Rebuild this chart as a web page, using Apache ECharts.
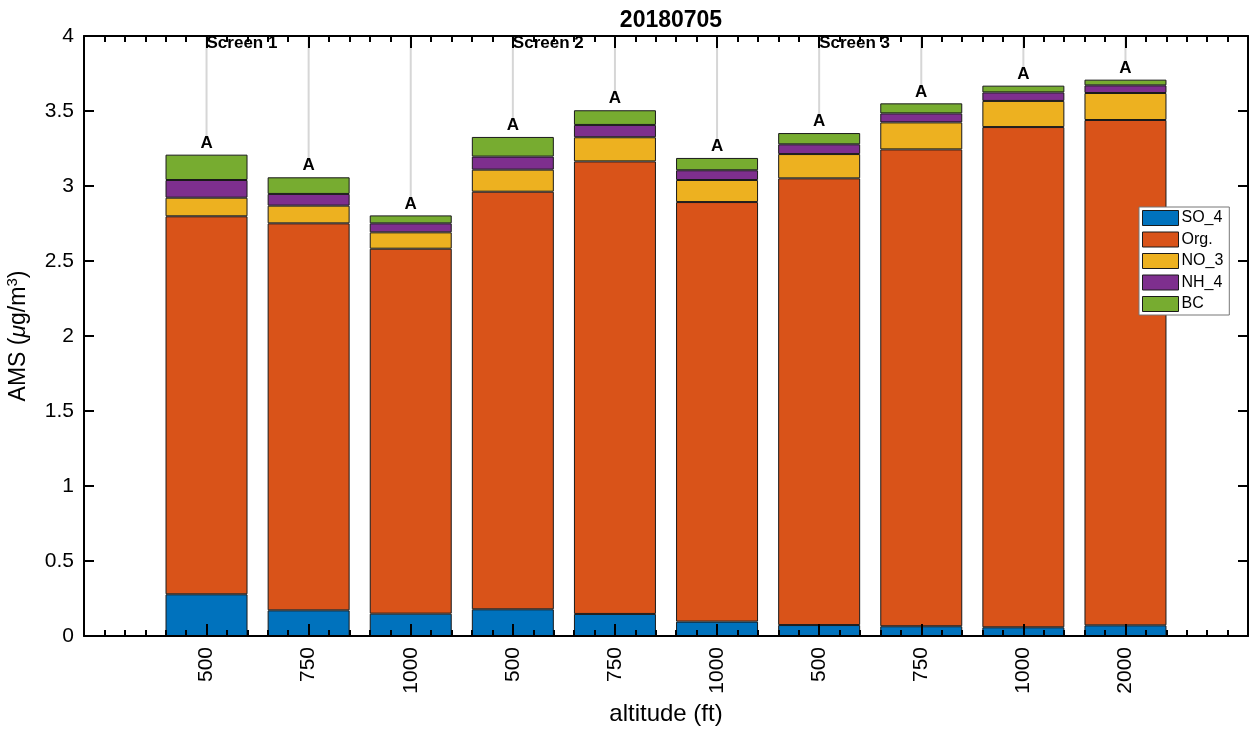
<!DOCTYPE html>
<html>
<head>
<meta charset="utf-8">
<title>20180705 AMS composition</title>
<script src="https://cdn.jsdelivr.net/npm/echarts@6/dist/echarts.min.js"></script>
<style>
  html, body { margin: 0; padding: 0; background: #ffffff; }
  #chart { width: 1250px; height: 731px; }
</style>
</head>
<body>
<div id="chart"></div>
<script>
// Flight legs, in the order they are drawn
const altitudes = ['500', '750', '1000', '500', '750', '1000', '500', '750', '1000', '2000'];

// Mass concentrations per species (µg/m³)
const so4 = [0.278, 0.171, 0.149, 0.178, 0.147, 0.096, 0.073, 0.065, 0.058, 0.071];
const org = [2.520, 2.580, 2.433, 2.784, 3.017, 2.797, 2.978, 3.179, 3.335, 3.369];
const no3 = [0.124, 0.118, 0.109, 0.147, 0.161, 0.147, 0.162, 0.180, 0.174, 0.180];
const nh4 = [0.118, 0.078, 0.060, 0.087, 0.082, 0.065, 0.065, 0.060, 0.057, 0.051];
const bc  = [0.169, 0.111, 0.053, 0.131, 0.098, 0.082, 0.075, 0.067, 0.045, 0.038];

// Screen annotations: label and the leg where each screen starts
const screenNames = ['Screen 1', 'Screen 2', 'Screen 3'];
const screenLegs  = [1, 4, 7];

// Letter shown above every stacked bar
const barTag = 'A';

const speciesNames  = ['SO_4', 'Org.', 'NO_3', 'NH_4', 'BC'];
const speciesValues = [so4, org, no3, nh4, bc];
const speciesColors = ['#0072BD', '#D95319', '#EDB120', '#7E2F8E', '#77AC30'];

const FONT = '"Liberation Sans", Arial, Helvetica, sans-serif';
const X_MIN = -0.2, X_MAX = 11.2, Y_MAX = 4;

const legPositions = altitudes.map((_, i) => i + 1);
const totals = legPositions.map((_, i) => speciesValues.reduce((s, arr) => s + arr[i], 0));

// minor tick positions every 0.2 along the leg axis
const minorTicks = [];
for (let k = Math.round(X_MIN * 5); k <= Math.round(X_MAX * 5); k++) {
  const v = +(k / 5).toFixed(1);
  if (!legPositions.includes(v)) minorTicks.push(v);
}

const chart = echarts.init(document.getElementById('chart'), null, { renderer: 'canvas' });

const grid = { left: 84, right: 2, top: 36, bottom: 95, containLabel: false, outerBoundsMode: 'none' };

// axes sit on their own layer so the inward ticks stay visible over the bars
function xAxisBase(position, extra) {
  return Object.assign({
    type: 'value', position: position, min: X_MIN, max: X_MAX, zlevel: 1, z: 10,
    splitLine: { show: false },
    axisLine: { show: true, onZero: false, lineStyle: { color: '#000', width: 2 } },
    axisLabel: { show: false },
    axisTick: { show: false }
  }, extra);
}

const xAxes = [
  // bottom, major ticks + labels
  xAxisBase('bottom', {
    name: 'altitude (ft)', nameLocation: 'middle', nameGap: 66, nameMoveOverlap: false,
    nameTextStyle: { fontFamily: FONT, fontSize: 24, color: '#000' },
    axisTick: { show: true, inside: true, length: 12, customValues: legPositions,
                lineStyle: { color: '#000', width: 2 } },
    axisLabel: { show: true, rotate: 90, margin: 11, customValues: legPositions,
                 fontFamily: FONT, fontSize: 21, color: '#000',
                 formatter: v => altitudes[Math.round(v) - 1] }
  }),
  // bottom, minor ticks
  xAxisBase('bottom', {
    axisLine: { show: false, onZero: false },
    axisTick: { show: true, inside: true, length: 6, customValues: minorTicks,
                lineStyle: { color: '#000', width: 2 } }
  }),
  // top, major ticks
  xAxisBase('top', {
    axisTick: { show: true, inside: true, length: 12, customValues: legPositions,
                lineStyle: { color: '#000', width: 2 } }
  }),
  // top, minor ticks
  xAxisBase('top', {
    axisLine: { show: false, onZero: false },
    axisTick: { show: true, inside: true, length: 6, customValues: minorTicks,
                lineStyle: { color: '#000', width: 2 } }
  })
];

const yAxes = [
  {
    type: 'value', position: 'left', min: 0, max: Y_MAX, interval: 0.5, zlevel: 1, z: 10,
    name: '{t|AMS (}{mu|μ}{t|g/m}{sup|3}{t|)}',
    nameLocation: 'middle', nameGap: 52, nameRotate: 90, nameMoveOverlap: false,
    nameTextStyle: {
      color: '#000',
      rich: {
        t:   { fontFamily: FONT, fontSize: 23, color: '#000' },
        mu:  { fontFamily: FONT, fontSize: 23, color: '#000', fontStyle: 'italic' },
        sup: { fontFamily: FONT, fontSize: 15, color: '#000', padding: [0, 0, 12, 0] }
      }
    },
    splitLine: { show: false },
    axisLine: { show: true, onZero: false, lineStyle: { color: '#000', width: 2 } },
    axisTick: { show: true, inside: true, length: 10, lineStyle: { color: '#000', width: 2 } },
    axisLabel: { fontFamily: FONT, fontSize: 21, color: '#000', margin: 10,
                 formatter: v => String(v) }
  },
  {
    type: 'value', position: 'right', min: 0, max: Y_MAX, interval: 0.5, zlevel: 1, z: 10,
    splitLine: { show: false },
    axisLine: { show: true, onZero: false, lineStyle: { color: '#000', width: 2 } },
    axisTick: { show: true, inside: true, length: 10, lineStyle: { color: '#000', width: 2 } },
    axisLabel: { show: false }
  }
];

// value first so that the stack runs along the vertical axis
const barSeries = speciesNames.map((name, s) => ({
  name: name,
  type: 'bar',
  stack: 'ams',
  xAxisIndex: 0,
  yAxisIndex: 0,
  barWidth: 82,
  z: 3,
  encode: { x: 1, y: 0 },
  itemStyle: { color: speciesColors[s], borderColor: '#1a1a1a', borderWidth: 1 },
  emphasis: { disabled: true },
  data: speciesValues[s].map((v, i) => [v, legPositions[i]]),
  label: s === speciesNames.length - 1 ? {
    show: true, position: 'top', distance: 3, formatter: barTag,
    fontFamily: FONT, fontSize: 17, fontWeight: 'bold', color: '#000'
  } : { show: false }
}));

// light guide lines from above each bar up to the top of the axes
const guideSeries = {
  type: 'custom',
  name: 'guides',
  xAxisIndex: 0, yAxisIndex: 0, z: 1,
  silent: true,
  data: legPositions.map((x, i) => [x, totals[i]]),
  renderItem: (params, api) => {
    const base = api.coord([api.value(0), api.value(1)]);
    const top = api.coord([api.value(0), Y_MAX]);
    return {
      type: 'line',
      shape: { x1: base[0], y1: base[1] - 17, x2: top[0], y2: top[1] },
      style: { stroke: '#d6d6d6', lineWidth: 2 }
    };
  }
};

// "Screen n" annotations hanging from the top edge
const screenSeries = {
  type: 'custom',
  name: 'screens',
  xAxisIndex: 0, yAxisIndex: 0, z: 4,
  silent: true,
  data: screenLegs.map(x => [x, Y_MAX]),
  renderItem: (params, api) => {
    const p = api.coord([api.value(0), api.value(1)]);
    return {
      type: 'text',
      x: p[0], y: p[1] + 7,
      style: {
        text: screenNames[params.dataIndex],
        fontFamily: FONT, fontSize: 17, fontWeight: 'bold', fill: '#000',
        align: 'left', verticalAlign: 'middle'
      }
    };
  }
};

chart.setOption({
  animation: false,
  backgroundColor: '#ffffff',
  title: {
    text: '20180705',
    left: 666, top: 4, textAlign: 'center',
    textStyle: { fontFamily: FONT, fontSize: 23, fontWeight: 'bold', color: '#000' }
  },
  legend: {
    data: speciesNames,
    orient: 'vertical',
    left: 1139, top: 207,
    padding: [3, 6, 3, 3],
    itemWidth: 36, itemHeight: 15, itemGap: 5.5,
    backgroundColor: '#ffffff',
    borderColor: '#777', borderWidth: 1, borderRadius: 0,
    icon: 'rect',
    itemStyle: { borderColor: '#1a1a1a', borderWidth: 1 },
    textStyle: { fontFamily: FONT, fontSize: 16, color: '#000', padding: [0, 0, 0, -2] },
    selectedMode: false
  },
  grid: grid,
  xAxis: xAxes,
  yAxis: yAxes,
  series: [guideSeries].concat(barSeries, [screenSeries])
});
</script>
</body>
</html>
